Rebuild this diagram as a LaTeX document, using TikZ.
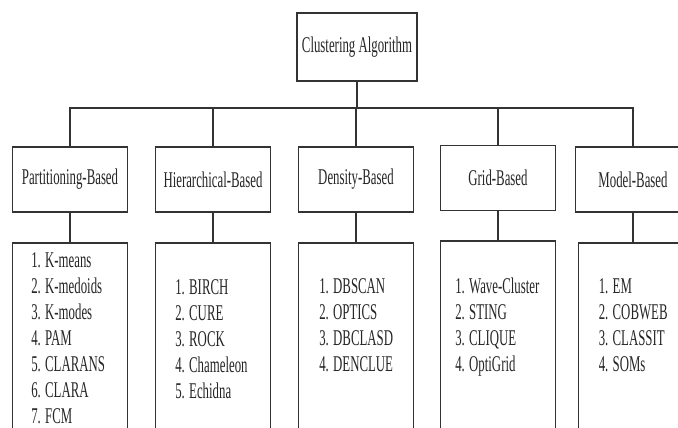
\documentclass[tikz,border=0pt]{standalone}
\usepackage{fontspec}
\setmainfont[FakeStretch=0.57]{Liberation Serif}
\usetikzlibrary{positioning}

\begin{document}
\begin{tikzpicture}[
  x=1pt, y=1pt,
  node distance=29pt,
  box/.style={draw=black!80, line width=1.8pt, minimum width=115pt, minimum height=65pt, inner sep=0pt, text=black!85},
  rootbox/.style={box, minimum width=120pt, minimum height=68pt},
  listbox/.style={draw=black!80, line width=1.8pt, minimum width=115pt, minimum height=260pt, anchor=north},
  items/.style={align=left, inner sep=0pt, text=black!85},
  link/.style={draw=black!80, line width=1.8pt}
]
\useasboundingbox (0,0) rectangle (678,-428);
\clip (0,0) rectangle (678,-428);
\fill[white] (0,0) rectangle (678,-428);

\tikzset{every node/.append style={font=\fontsize{22.5}{26}\selectfont}}

% root
\node[rootbox] (root) at (357,-47) {Clustering Algorithm};

% second row, hanging from the bar
\node[box] (part) at (70,-179.5) {Partitioning-Based};
\node[box] (hier) at (213,-179.5) {Hierarchical-Based};
\node[box] (dens) at (356,-179.5) {Density-Based};
\node[box] (grid) at (498,-178) {Grid-Based};
\node[box] (modl) at (633,-179.5) {Model-Based};

% lower boxes
\node[listbox, below=of part.south] (partl) {};
\node[listbox, below=of hier.south] (hierl) {};
\node[listbox, below=of dens.south] (densl) {};
\node[listbox, below=of grid.south] (gridl) {};
\node[listbox, below=of modl.south, xshift=3pt] (modll) {};

% lists
\node[items, below right=11pt and 19.5pt of partl.north west] (partt)
  {1. K-means\\2. K-medoids\\3. K-modes\\4. PAM\\5. CLARANS\\6. CLARA\\7. FCM};
\node[items, below right=37pt and 20.5pt of hierl.north west] (hiert)
  {1. BIRCH\\2. CURE\\3. ROCK\\4. Chameleon\\5. Echidna};
\node[items, below right=37pt and 21.5pt of densl.north west] (denst)
  {1. DBSCAN\\2. OPTICS\\3. DBCLASD\\4. DENCLUE};
\node[items, below right=37pt and 15.5pt of gridl.north west] (gridt)
  {1. Wave-Cluster\\2. STING\\3. CLIQUE\\4. OptiGrid};
\node[items, below right=37pt and 21pt of modll.north west] (modlt)
  {1. EM\\2. COBWEB\\3. CLASSIT\\4. SOMs};

% tree
\foreach \n in {part,hier,dens,grid,modl}
  \draw[link] (root.south) -- ++(0,-26) -| (\n.north);
\draw[link] (part.south) -- (partl.north);
\draw[link] (hier.south) -- (hierl.north);
\draw[link] (dens.south) -- (densl.north);
\draw[link] (grid.south) -- (gridl.north);
\draw[link] (modl.south) -- (modl.south |- modll.north);
\end{tikzpicture}
\end{document}
